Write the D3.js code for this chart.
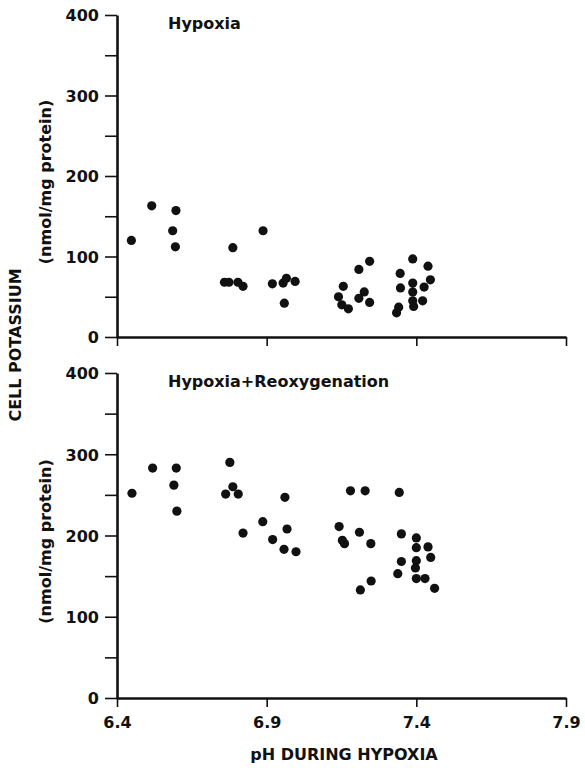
<!DOCTYPE html>
<html>
<head>
<meta charset="utf-8">
<script src="https://cdnjs.cloudflare.com/ajax/libs/d3/7.8.5/d3.min.js"></script>
<style>
  body { margin: 0; background: #fff; }
  svg { display: block; }
  .tick text { font-family: "DejaVu Sans", sans-serif; font-weight: bold; font-size: 16px; fill: #111; }
  .lbl { font-family: "DejaVu Sans", sans-serif; font-weight: bold; fill: #111; }
</style>
</head>
<body>
<div id="chart"></div>
<script>
// values
const hypoxiaPH = [6.448, 6.516, 6.597, 6.586, 6.595, 6.759, 6.774, 6.787, 6.804, 6.821,
  6.888, 6.919, 6.955, 6.966, 6.995, 6.959, 7.140, 7.156, 7.151, 7.173,
  7.208, 7.244, 7.226, 7.208, 7.244, 7.346, 7.347, 7.341, 7.334, 7.388,
  7.439, 7.388, 7.388, 7.447, 7.426, 7.388, 7.421, 7.391];
const hypoxiaK = [120, 163, 157, 132, 112, 68, 68, 111, 68, 63,
  132, 66, 67, 73, 69, 42, 50, 63, 40, 35,
  84, 94, 56, 48, 43, 79, 61, 37, 30, 97,
  88, 67, 56, 71, 62, 45, 45, 38];

const reoxPH = [6.450, 6.519, 6.598, 6.590, 6.600, 6.777, 6.787, 6.763, 6.805, 6.821,
  6.887, 6.920, 6.961, 6.968, 6.958, 6.998, 7.142, 7.153, 7.160, 7.180,
  7.229, 7.343, 7.210, 7.248, 7.249, 7.213, 7.350, 7.400, 7.400, 7.439,
  7.448, 7.350, 7.400, 7.397, 7.338, 7.400, 7.429, 7.461];
const reoxK = [252, 283, 283, 262, 230, 290, 260, 251, 251, 203,
  217, 195, 247, 208, 183, 180, 211, 194, 190, 255,
  255, 253, 204, 190, 144, 133, 202, 197, 185, 186,
  173, 168, 169, 160, 153, 147, 147, 135];

const xTicks = [6.4, 6.9, 7.4, 7.9];
const yTicks = [0, 50, 100, 150, 200, 250, 300, 350, 400];
const yLabelled = [0, 100, 200, 300, 400];

const W = 585, H = 768;
const svg = d3.select('#chart').append('svg')
    .attr('width', W)
    .attr('height', H);

const x = d3.scaleLinear().domain([6.4, 7.9]).range([117, 566]);

const panels = [
  {title: 'Hypoxia', ph: hypoxiaPH, k: hypoxiaK, top: 15, bottom: 337, xLabels: false},
  {title: 'Hypoxia + Reoxygenation', ph: reoxPH, k: reoxK, top: 373, bottom: 698, xLabels: true}
];

panels.forEach(function (p) {
  const y = d3.scaleLinear().domain([0, 400]).range([p.bottom, p.top]);
  const g = svg.append('g');

  const yAxis = d3.axisLeft(y)
      .tickValues(yTicks)
      .tickSize(12)
      .tickSizeOuter(0)
      .tickPadding(6)
      .tickFormat(function (d) { return yLabelled.indexOf(d) >= 0 ? d : ''; });

  const xAxis = d3.axisBottom(x)
      .tickValues(xTicks)
      .tickSize(9)
      .tickSizeOuter(0)
      .tickPadding(9)
      .tickFormat(function (d) { return p.xLabels ? d3.format('.1f')(d) : ''; });

  const ya = g.append('g').attr('transform', 'translate(' + x.range()[0] + ',0)').call(yAxis);
  const xa = g.append('g').attr('transform', 'translate(0,' + p.bottom + ')').call(xAxis);

  [ya, xa].forEach(function (a) {
    a.select('.domain').attr('stroke', '#111').attr('stroke-width', 2.6);
    a.selectAll('.tick line').attr('stroke', '#111').attr('stroke-width', 1.6);
  });
  ya.selectAll('.tick text').attr('dy', '0.36em');
  xa.selectAll('.tick text').attr('dy', '0.75em');

  g.append('text')
      .attr('class', 'lbl')
      .attr('x', 168)
      .attr('y', p.top + 14)
      .style('font-size', '16px')
      .text(p.title.replace(' + ', '+'));

  g.selectAll('circle')
      .data(d3.range(p.ph.length))
      .enter()
      .append('circle')
      .attr('cx', function (i) { return x(p.ph[i]); })
      .attr('cy', function (i) { return y(p.k[i]); })
      .attr('r', 4.6)
      .attr('fill', '#111');

  g.append('text')
      .attr('class', 'lbl')
      .attr('transform', 'translate(51,' + ((p.top + p.bottom) / 2 + 6) + ') rotate(-90)')
      .attr('text-anchor', 'middle')
      .style('font-size', '16px')
      .text('(nmol/mg protein)');
});

svg.append('text')
    .attr('class', 'lbl')
    .attr('transform', 'translate(21,345) rotate(-90)')
    .attr('text-anchor', 'middle')
    .style('font-size', '16px')
    .text('CELL POTASSIUM');

svg.append('text')
    .attr('class', 'lbl')
    .attr('x', 344)
    .attr('y', 760)
    .attr('text-anchor', 'middle')
    .style('font-size', '16px')
    .text('pH DURING HYPOXIA');
</script>
</body>
</html>
